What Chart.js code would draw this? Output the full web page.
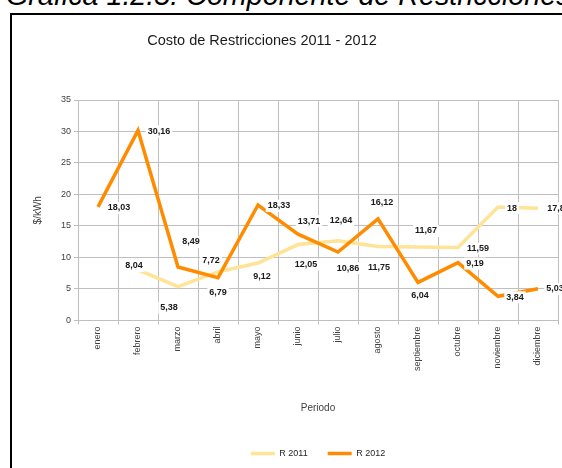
<!DOCTYPE html>
<html>
<head>
<meta charset="utf-8">
<script src="https://cdn.jsdelivr.net/npm/chart.js@4.4.0/dist/chart.umd.min.js"></script>
<style>
    body { margin: 0; background: #fff; overflow: hidden; width: 562px; height: 468px; position: relative; }
    #header {
        position: absolute; left: 6px; top: -19px; white-space: nowrap;
        font: italic 28.7px/28px 'Liberation Sans', Arial, sans-serif; color: #000;
    }
    #frame {
        position: absolute; left: 10px; top: 13px; width: 600px; height: 500px;
        border-left: 2px solid #000; border-top: 2px solid #000;
    }
    #chart { position: absolute; left: 12px; top: 15px; }
</style>
</head>
<body>
<div id="header">Gráfica 1.2.5: Componente de Restricciones</div>
<div id="frame"></div>
<canvas id="chart" width="550" height="453"></canvas>
<script>
/* Costo de Restricciones 2011 - 2012, $/kWh per month */

const months = ['enero', 'febrero', 'marzo', 'abril', 'mayo', 'junio', 'julio',
                'agosto', 'septiembre', 'octubre', 'noviembre', 'diciembre'];
const r2011 = [null, 8.04, 5.38, 7.72, 9.12, 12.05, 12.64, 11.75, 11.67, 11.59, 18, 17.8];
const r2012 = [18.03, 30.16, 8.49, 6.79, 18.33, 13.71, 10.86, 16.12, 6.04, 9.19, 3.84, 5.03];
const yTicks = [0, 5, 10, 15, 20, 25, 30, 35];

// where each value label sits relative to its point (dx, dy in px)
const labelOffsets2011 = [null, [-4, -4], [-9, 21], [-7, -11], [4, 13], [8, 20], [3, -20],
                          [1, 21], [8, -16], [20, 1], [14, 1], [18, 0]];
const labelOffsets2012 = [[21, 1], [21, 1], [13, -25], [0, 15], [21, 1], [11, -13], [10, 16],
                          [4, -16], [2, 13], [17, 1], [17, 1], [17, 0]];

const FONT = "'Liberation Sans', Arial, sans-serif";
Chart.defaults.font.family = FONT;
Chart.defaults.color = '#404040';

// value labels with white boxes behind them
const valueLabels = {
    id: 'valueLabels',
    afterDatasetsDraw(chart) {
        const ctx = chart.ctx;
        const offsets = [labelOffsets2011, labelOffsets2012];
        ctx.save();
        ctx.font = 'bold 9px ' + FONT;
        ctx.textAlign = 'center';
        ctx.textBaseline = 'middle';
        chart.data.datasets.forEach((ds, i) => {
            const meta = chart.getDatasetMeta(i);
            ds.data.forEach((v, j) => {
                if (v === null) return;
                const pt = meta.data[j];
                const x = pt.x + offsets[i][j][0];
                const y = pt.y + offsets[i][j][1];
                const txt = String(v).replace('.', ',');
                const w = ctx.measureText(txt).width;
                ctx.fillStyle = '#fff';
                ctx.fillRect(x - w / 2 - 2, y - 6, w + 4, 12);
                ctx.fillStyle = '#1a1a1a';
                ctx.fillText(txt, x, y);
            });
        });
        ctx.restore();
    }
};

// chart title, placed like the original (not centred on the canvas)
const chartTitle = {
    id: 'chartTitle',
    afterDraw(chart) {
        const ctx = chart.ctx;
        ctx.save();
        ctx.font = '14.5px ' + FONT;
        ctx.fillStyle = '#1a1a1a';
        ctx.textAlign = 'center';
        ctx.textBaseline = 'alphabetic';
        ctx.fillText('Costo de Restricciones 2011 - 2012', 250, 30);
        ctx.restore();
    }
};

new Chart(document.getElementById('chart'), {
    type: 'line',
    data: {
        labels: months,
        datasets: [
            {
                label: 'R 2011',
                data: r2011,
                borderColor: '#FFE397',
                backgroundColor: '#FFE397',
                borderWidth: 3.5,
                pointRadius: 0,
                order: 1
            },
            {
                label: 'R 2012',
                data: r2012,
                borderColor: '#FF8C00',
                backgroundColor: '#FF8C00',
                borderWidth: 3.5,
                pointRadius: 0,
                order: 0
            }
        ]
    },
    options: {
        responsive: false,
        animation: false,
        layout: { padding: { top: 85, left: 20, right: 4, bottom: 0 } },
        scales: {
            x: {
                offset: true,
                grid: { color: '#BFBFBF', offset: true, tickLength: 4 },
                border: { color: '#BFBFBF' },
                ticks: { minRotation: 90, maxRotation: 90, padding: 2, font: { size: 9 } },
                title: { display: true, text: 'Periodo', font: { size: 10 }, padding: { top: 29, bottom: 15 } }
            },
            y: {
                min: 0,
                max: 35,
                afterBuildTicks(axis) { axis.ticks = yTicks.map(v => ({ value: v })); },
                grid: { color: '#BFBFBF', tickLength: 4 },
                border: { color: '#BFBFBF' },
                ticks: { padding: 3, font: { size: 9 } },
                title: { display: true, text: '$/kWh', font: { size: 10 }, padding: { top: 0, bottom: 14 } }
            }
        },
        plugins: {
            legend: {
                position: 'bottom',
                fullSize: false,
                labels: {
                    usePointStyle: true,
                    pointStyle: 'line',
                    pointStyleWidth: 24,
                    padding: 20,
                    font: { size: 9 },
                    color: '#262626',
                    sort: (a, b) => a.datasetIndex - b.datasetIndex
                }
            },
            tooltip: { enabled: false }
        }
    },
    plugins: [valueLabels, chartTitle]
});
</script>
</body>
</html>
